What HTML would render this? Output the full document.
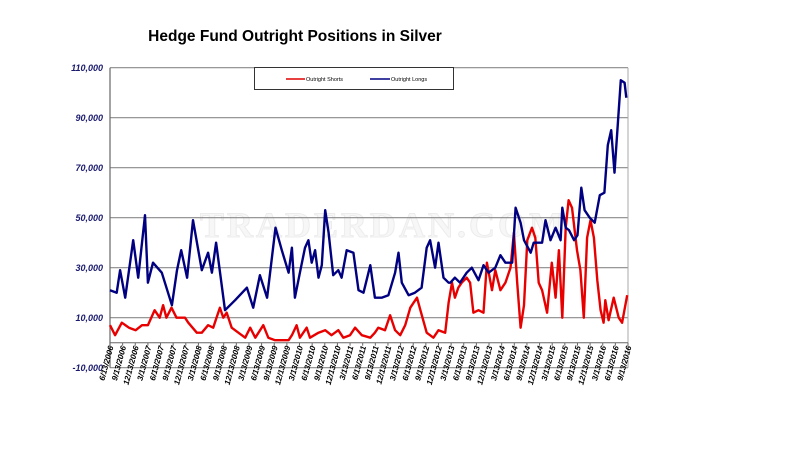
<!DOCTYPE html>
<html><head><meta charset="utf-8"><style>
html,body{margin:0;padding:0;background:#fff;}
svg{display:block;font-family:"Liberation Sans",Arial,sans-serif;}
</style></head><body>
<svg id="chart" width="800" height="450" viewBox="0 0 800 450">
<text x="295" y="41" text-anchor="middle" font-size="15.5" font-weight="bold" fill="#000">Hedge Fund Outright Positions in Silver</text>
<text x="383" y="237" text-anchor="middle" font-family="'Liberation Serif',serif" font-weight="bold" font-size="36" letter-spacing="3" fill="#f7f7f7" stroke="#ececec" stroke-width="1">TRADERDAN.COM</text>
<g id="grid"></g>
<g id="yticks"></g>
<g id="xticks"></g>
<g id="series"></g>
<g>
<rect x="254.5" y="67.5" width="199" height="22" fill="#fff" stroke="#333" stroke-width="1"/>
<line x1="286" y1="79" x2="305" y2="79" stroke="#e00000" stroke-width="1.5"/>
<text x="306" y="81" font-size="5.5" fill="#000">Outright Shorts</text>
<line x1="370" y1="79" x2="390" y2="79" stroke="#000080" stroke-width="1.5"/>
<text x="391" y="81" font-size="5.5" fill="#000">Outright Longs</text>
</g>
</svg>
<script>
const yTicks = [110000, 90000, 70000, 50000, 30000, 10000, -10000];
const xTickLabels = ["6/13/2006","9/13/2006","12/13/2006","3/13/2007","6/13/2007","9/13/2007","12/13/2007","3/13/2008","6/13/2008","9/13/2008","12/13/2008","3/13/2009","6/13/2009","9/13/2009","12/13/2009","3/13/2010","6/13/2010","9/13/2010","12/13/2010","3/13/2011","6/13/2011","9/13/2011","12/13/2011","3/13/2012","6/13/2012","9/13/2012","12/13/2012","3/13/2013","6/13/2013","9/13/2013","12/13/2013","3/13/2014","6/13/2014","9/13/2014","12/13/2014","3/13/2015","6/13/2015","9/13/2015","12/13/2015","3/13/2016","6/13/2016","9/13/2016"];
// months since 6/13/2006
const longsMonths = [0,1.6,2.4,3.6,5.5,6.7,8.3,9,10.2,12.3,14.7,15.9,16.9,18.3,19.7,21.8,23.3,24.2,25.2,27.3,29.7,32.5,34,35.6,37.3,39.3,40.8,42.4,43.2,43.9,45.1,46.3,47.1,47.9,48.7,49.5,50.3,51.1,51.9,53,54.2,55,56.2,57.8,59,60.2,61.8,62.9,64.5,66.1,67.7,68.5,69.3,70.9,72.4,74,75.2,76,77.2,78,79.2,80.4,80.8,81.9,83.1,84.7,85.9,87.5,88.7,89.9,91.5,92.7,93.9,95.5,96.3,97.5,98.3,99.9,100.6,102.6,103.4,104.6,105.8,107,107.4,108.2,109,110.2,111,111.9,112.7,113.9,115.1,116.3,117.4,118.2,119,119.8,120.6,121.3,122.2,122.6];
const longsValues = [21000,20000,29000,18000,41000,26000,51000,24000,32000,28000,15000,29000,37000,26000,49000,29000,36000,28000,40000,13000,17000,22000,14000,27000,18000,46000,37000,28000,38000,18000,28000,38000,41000,32000,37000,26000,31000,53000,44000,27000,29000,26000,37000,36000,21000,20000,31000,18000,18000,19000,28000,36000,24000,19000,20000,22000,38000,41000,30000,40000,26000,24000,24000,26000,24000,28000,30000,25000,31000,28000,30000,35000,32000,32000,54000,48000,41000,36000,40000,40000,49000,41000,46000,41000,54000,46000,45000,41000,43000,62000,53000,50000,48000,59000,60000,79000,85000,68000,88000,105000,104000,98000];
const shortsMonths = [0,1.2,2.8,4.5,6.1,7.6,9,10.6,11.8,12.6,13.4,14.6,15.8,17.8,18.6,20.6,21.8,23.3,24.5,25.3,26.1,26.9,27.7,28.9,30.5,32.1,33.3,34.5,36.4,37.6,39.2,40.8,42.4,43.2,44.3,45.1,46.7,47.5,49.5,51.1,52.6,54.2,55.4,57,58.2,59.8,61.8,62.9,63.7,65.3,66.5,67.7,68.9,70.1,71.3,72.1,72.9,73.7,75.2,76.8,78,79.6,80.4,81.2,81.9,82.7,83.5,84.7,85.5,86.3,87.5,88.7,89.5,90.7,91.5,92.7,93.9,95.1,95.9,96.7,97.5,98.3,99.1,100.2,101,101.8,102.6,103.8,104.9,105.8,106.6,107.4,108.2,108.9,109.7,110.9,111.7,112.5,113.3,114.1,114.9,115.7,116.5,117.2,117.6,118.4,119.6,120.8,121.6,122.8];
const shortsValues = [7000,3000,8000,6000,5000,7000,7000,13000,10000,15000,10000,14000,10000,10000,8000,4000,4000,7000,6000,10000,14000,10000,12000,6000,4000,2000,6000,2000,7000,2000,1000,1000,1000,3000,7000,2000,6000,2000,4000,5000,3000,5000,2000,3000,6000,3000,2000,4000,6000,5000,11000,5000,3000,7000,14000,16000,18000,13000,4000,2000,5000,4000,16000,24000,18000,22000,24000,26000,24000,12000,13000,12000,32000,21000,29000,21000,24000,30000,44000,24000,6000,15000,41000,46000,42000,24000,21000,12000,32000,18000,37000,10000,46000,57000,54000,37000,29000,10000,42000,49000,42000,25000,13000,8000,17000,9000,18000,10000,8000,19000];

const NS = "http://www.w3.org/2000/svg";
const X0 = 110, X1 = 628, MAXM = 123;
const xScale = m => X0 + (X1 - X0) * m / MAXM;
const yScale = v => 342.7 - v / 400;
function mk(tag, attrs, parent) {
  const e = document.createElementNS(NS, tag);
  for (const k in attrs) e.setAttribute(k, attrs[k]);
  parent.appendChild(e);
  return e;
}
const grid = document.getElementById('grid');
const yg = document.getElementById('yticks');
yTicks.forEach(v => {
  const y = yScale(v);
  const l = mk('line', {x1: X0, x2: X1, y1: y, y2: y, stroke: '#8a8a8a', 'stroke-width': 1.2}, grid);
  
  
  const t = mk('text', {x: 103, y: y + 3.5, 'text-anchor': 'end', 'font-size': 9, 'font-weight': 'bold', 'font-style': 'italic', fill: '#1a1a6e'}, yg);
  t.textContent = v.toLocaleString('en-US');
  
  
});
const ax = mk('line', {x1: X0, x2: X0, y1: yScale(110000), y2: yScale(-10000), stroke: '#666', 'stroke-width': 1.2}, grid);


const rb = mk('line', {x1: X1, x2: X1, y1: yScale(110000), y2: yScale(-10000), stroke: '#aaa', 'stroke-width': 1}, grid);


const za = mk('line', {x1: X0, x2: X1, y1: yScale(0), y2: yScale(0), stroke: '#666', 'stroke-width': 1}, grid);



const xg = document.getElementById('xticks');
xTickLabels.forEach((lab, i) => {
  const x = xScale(i * 3);
  const tk = mk('line', {x1: x, x2: x, y1: yScale(0), y2: yScale(0) + 3, stroke: '#666'}, xg);
  
  
  const t = mk('text', {x: 0, y: 0, 'text-anchor': 'end', 'font-size': 8, 'font-weight': 'bold', 'font-style': 'italic', fill: '#000', transform: `translate(${x + 3.5},${yScale(0) + 4}) rotate(-75)`}, xg);
  t.textContent = lab;
  
  
});

const sg = document.getElementById('series');
function line(ms, vs, color, name) {
  const d = ms.map((m, i) => (i ? 'L' : 'M') + xScale(m).toFixed(1) + ',' + yScale(vs[i]).toFixed(1)).join('');
  const p = mk('path', {d: d, fill: 'none', stroke: color, 'stroke-width': 2.4, 'stroke-linejoin': 'round'}, sg);
  
  
}
line(shortsMonths, shortsValues, '#e80000', 'shorts-line');
line(longsMonths, longsValues, '#000080', 'longs-line');
</script>
</body></html>
